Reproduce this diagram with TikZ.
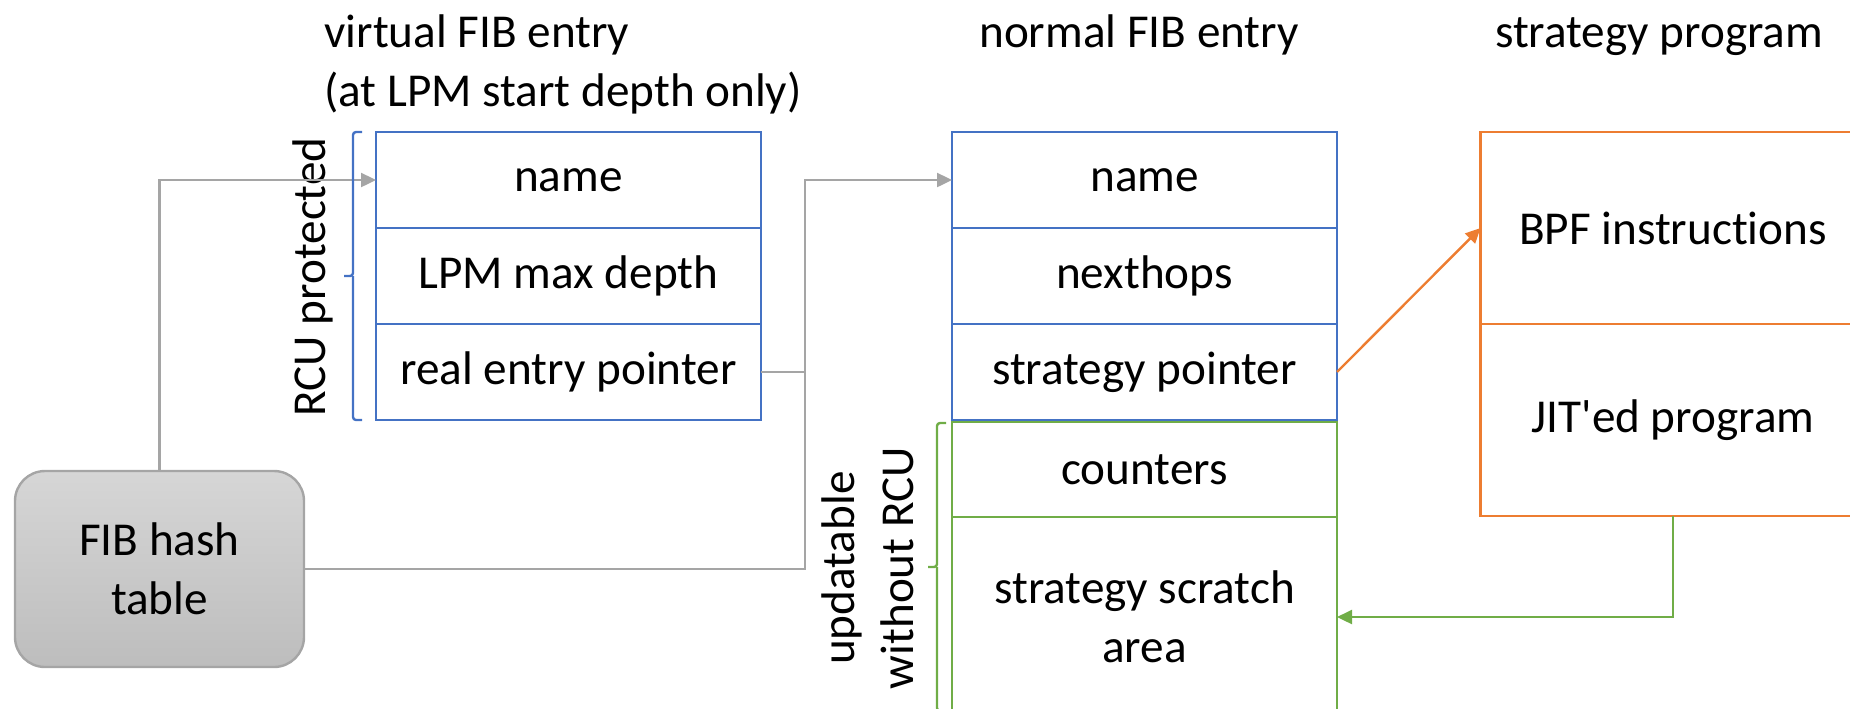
\documentclass[tikz,border=0pt]{standalone}
\usepackage{fontspec}
\setmainfont{Carlito}[Ligatures=NoCommon]
\usepackage{tikz}
\usetikzlibrary{positioning,arrows.meta}
\definecolor{fibblue}{HTML}{4472C4}
\definecolor{fibgreen}{HTML}{70AD47}
\definecolor{progorange}{HTML}{ED7D31}
\definecolor{linkgray}{HTML}{A5A5A5}
\definecolor{hashtop}{HTML}{D6D6D6}
\definecolor{hashbottom}{HTML}{BDBDBD}

\begin{document}
\begin{tikzpicture}[
            x=0.5pt, y=-0.5pt,
            every node/.style={font=\fontsize{23.6pt}{29.5pt}\selectfont},
            cell/.style={rectangle, draw=fibblue, line width=1.2pt, minimum width=192.5pt, minimum height=48pt, inner sep=0pt, outer sep=0pt, align=center},
            gcell/.style={cell, draw=fibgreen},
            ocell/.style={cell, draw=progorange, minimum height=96pt},
            hashbox/.style={rectangle, rounded corners=15pt, draw=linkgray, line width=1.2pt, top color=hashtop, bottom color=hashbottom, minimum width=144.5pt, minimum height=98pt, align=center},
            arrow/.style={-{Triangle[length=7.5pt,width=7pt]}, line width=1.2pt},
            link/.style={arrow, draw=linkgray},
            bracket/.style={line width=1.2pt, rounded corners=1.5pt}
        ]
        \useasboundingbox (0,0) rectangle (1850,708);
        \clip (0,0) rectangle (1850,708);
        \node[anchor=north west, align=left, inner sep=0pt] (vtitle) at (324,14) {virtual FIB entry\\(at LPM start depth only)};
        \node[anchor=base] (ntitle) at (1139,47) {normal FIB entry};
        \node[anchor=base] (stitle) at (1659,47) {strategy program};
        \node[cell] (vname) at (568.5,180) {name};
        \node[cell, below=0pt of vname] (vdepth) {LPM max depth};
        \node[cell, below=0pt of vdepth] (vptr) {real entry pointer};
        \node[cell] (nname) at (1144.5,180) {name};
        \node[cell, below=0pt of nname] (nhops) {nexthops};
        \node[cell, below=0pt of nhops] (nstrat) {strategy pointer};
        \node[gcell, below=1pt of nstrat, minimum height=47.5pt] (ncount) {counters};
        \node[gcell, below=0pt of ncount, minimum height=100pt] (nscratch) {strategy scratch\\area};
        \node[ocell] (bpf) at (1673,228) {BPF instructions};
        \node[ocell, below=0pt of bpf] (jit) {JIT\textquotesingle ed program};
        \node[hashbox] (hash) at (159.5,569) {FIB hash\\table};
        \node[rotate=90] (rcu) at (313,277) {RCU protected};
        \node[rotate=90, align=center] (upd) at (868,568) {updatable\\without RCU};
        \coordinate (jn) at (805,566);
        \draw[link] (hash.north) |- (vname.west);
        \draw[link] (hash.east) -- (hash.east -| jn) |- (nname.west);
        \draw[linkgray, line width=1.2pt] (vptr.east) -- (vptr.east -| jn);
        \draw[arrow, draw=progorange] (nstrat.east) -- (bpf.west);
        \draw[arrow, draw=fibgreen] (jit.south) |- (nscratch.east);
        \draw[bracket, fibblue] (362,132) -- (353,132) -- (353,276) -- (344,276) (353,276) -- (353,420) -- (362,420);
        \draw[bracket, fibgreen] (946,423) -- (937,423) -- (937,567) -- (928,567) (937,567) -- (937,711) -- (946,711);
        \end{tikzpicture}
\end{document}
